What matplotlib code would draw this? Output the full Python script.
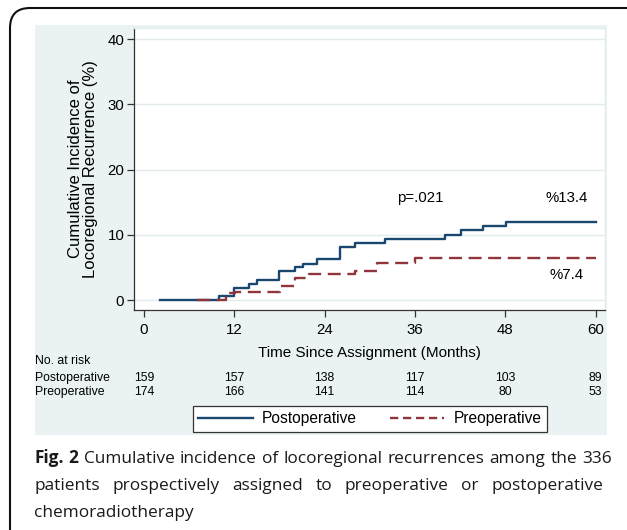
import matplotlib
matplotlib.use("Agg")
import matplotlib.pyplot as plt
import matplotlib.patches as mpatches
import matplotlib.transforms as mtransforms
from matplotlib.lines import Line2D

# cumulative incidence steps (months, %)
post_t = [2.1, 9.9, 12.0, 14.0, 15.0, 18.0, 20.0, 21.1, 23.0, 26.0, 28.0, 32.0, 40.0, 42.1, 45.0, 48.1, 60.0]
post_v = [0, 0.66, 1.8, 2.5, 3.1, 4.4, 5.0, 5.5, 6.25, 8.1, 8.8, 9.4, 9.9, 10.7, 11.3, 11.95, 11.95]
pre_t = [7.0, 10.9, 12.1, 18.1, 20.0, 21.9, 28.0, 31.0, 36.0, 60.0]
pre_v = [0, 1.1, 1.3, 2.2, 3.3, 4.0, 4.5, 5.7, 6.4, 6.4]

risk_times = [0, 12, 24, 36, 48, 60]
risk_post = [159, 157, 138, 117, 103, 89]
risk_pre = [174, 166, 141, 114, 80, 53]

yticks = [0, 10, 20, 30, 40]

navy = "#1a476f"
maroon = "#90353b"
panel = "#eaf2f3"
font = "Liberation Sans"

W, H = 627, 530
fig = plt.figure(figsize=(W / 100, H / 100), dpi=100)
fig.patch.set_facecolor("white")

# outer frame (only top-left corner visible)
frame = mpatches.FancyBboxPatch((10, -40), 700, 562, boxstyle="round,pad=0,rounding_size=20",
                                transform=mtransforms.IdentityTransform(),
                                facecolor="none", edgecolor="#111111", linewidth=1.5)
fig.add_artist(frame)

# stata graph region
fig.add_artist(mpatches.Rectangle((35 / W, 1 - 435 / H), (607 - 35) / W, (435 - 25) / H,
                                  transform=fig.transFigure, facecolor=panel,
                                  edgecolor="none", zorder=0))

ax = fig.add_axes([134 / W, 1 - 310 / H, (605 - 134) / W, (310 - 28) / H])
ax.set_facecolor("white")
ax.set_zorder(2)

ax.step(post_t, post_v, where="post", color=navy, lw=1.7, label="Postoperative", zorder=3)
ax.step(pre_t, pre_v, where="post", color=maroon, lw=1.7, dashes=(5.5, 2.8),
        label="Preoperative", zorder=4)

ax.set_xlim(-1.33, 61.26)
ax.set_ylim(-1.53, 41.69)
ax.set_xticks(risk_times)
ax.set_yticks(yticks)
ax.grid(axis="y", color="#e2ecee", lw=1)
ax.set_axisbelow(True)
ax.tick_params(axis="both", direction="out", length=5, width=0.9, color="#333333",
               labelsize=10.8, labelcolor="black")
ax.tick_params(axis="y", pad=2)
ax.tick_params(axis="x", pad=4)
for lab in ax.get_xticklabels() + ax.get_yticklabels():
    lab.set_fontfamily(font)
for s in ["left", "bottom"]:
    ax.spines[s].set_color("#333333")
    ax.spines[s].set_linewidth(0.9)
for s in ["top", "right"]:
    ax.spines[s].set_color("#e2ecee")
    ax.spines[s].set_linewidth(1)

ax.set_ylabel("Cumulative Incidence of\nLocoregional Recurrence (%)", fontsize=12,
              family=font, linespacing=0.95, labelpad=7)
ax.set_xlabel("Time Since Assignment (Months)", fontsize=11, family=font, labelpad=7)

ax.text(36.7, 15.6, "p=.021", fontsize=10.8, family=font, ha="center", va="center")
ax.text(56.2, 15.6, "%13.4", fontsize=10.8, family=font, ha="center", va="center")
ax.text(56.1, 3.9, "%7.4", fontsize=10.8, family=font, ha="center", va="center")

# number at risk table
tr = mtransforms.blended_transform_factory(ax.transData, fig.transFigure)
fig.text(35 / W, 1 - 361 / H, "No. at risk", fontsize=8.8, family=font, va="center")
fig.text(35 / W, 1 - 378 / H, "Postoperative", fontsize=8.8, family=font, va="center")
fig.text(35 / W, 1 - 392 / H, "Preoperative", fontsize=8.8, family=font, va="center")
for t, a, b in zip(risk_times, risk_post, risk_pre):
    fig.text(t, 1 - 378 / H, str(a), transform=tr, fontsize=8.8, family=font,
             ha="center", va="center")
    fig.text(t, 1 - 392 / H, str(b), transform=tr, fontsize=8.8, family=font,
             ha="center", va="center")

handles = [Line2D([], [], color=navy, lw=1.7),
           Line2D([], [], color=maroon, lw=1.7, dashes=(3.5, 2))]
leg = fig.legend(handles, ["Postoperative", "Preoperative"], ncol=2,
                 loc="center", bbox_to_anchor=(370 / W, 1 - 419 / H),
                 prop={"family": font, "size": 11.2}, handlelength=3.5,
                 columnspacing=2.1, handletextpad=0.6, borderpad=0.35,
                 fancybox=False, framealpha=1)
leg.get_frame().set_edgecolor("#333333")
leg.get_frame().set_linewidth(0.9)

# caption, justified like the journal layout
cap_font = "Open Sans"
cap_size = 12.4
line1 = [("Fig.", "bold"), ("2", "bold"), ("Cumulative", "normal"), ("incidence", "normal"),
         ("of", "normal"), ("locoregional", "normal"), ("recurrences", "normal"),
         ("among", "normal"), ("the", "normal"), ("336", "normal")]
line2 = [(w, "normal") for w in
         "patients prospectively assigned to preoperative or postoperative".split()]
line3 = [("chemoradiotherapy", "normal")]


def place_line(words, ybase, x0, x1, justify):
    texts = [fig.text(0, 1 - ybase / H, w, fontsize=cap_size, family=cap_font,
                      weight=wt, color="#1a1a1a", va="baseline") for w, wt in words]
    fig.canvas.draw()
    r = fig.canvas.get_renderer()
    widths = [t.get_window_extent(r).width for t in texts]
    if justify and len(texts) > 1:
        gap = (x1 - x0 - sum(widths)) / (len(texts) - 1)
    else:
        gap = 4
    x = x0
    for t, wd in zip(texts, widths):
        t.set_x(x / W)
        x += wd + gap


place_line(line1, 463, 34, 612, True)
place_line(line2, 490, 34, 603, True)
place_line(line3, 517, 34, 612, False)

fig.savefig("out.png", dpi=100)
